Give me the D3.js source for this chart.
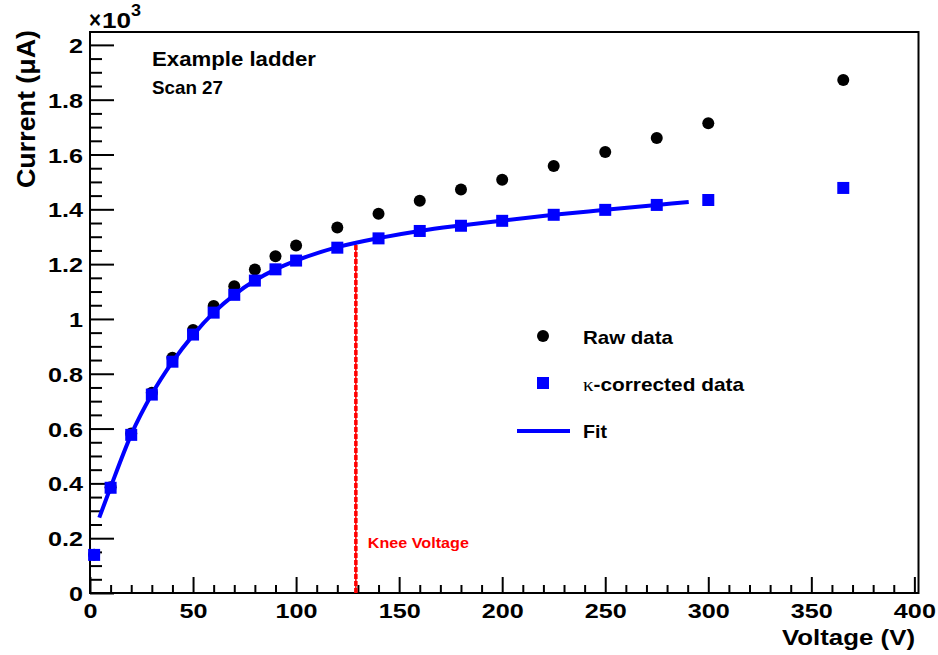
<!DOCTYPE html>
<html>
<head>
<meta charset="utf-8">
<script src="https://cdn.jsdelivr.net/npm/d3@7"></script>
<style>
  body { margin: 0; background: #fff; }
  svg text { font-family: "Liberation Sans", Arial, Helvetica, sans-serif; font-weight: bold; }
</style>
</head>
<body>
<svg id="chart" width="938" height="655"></svg>
<script>
// Measured voltages (V)
var voltages = [2, 10, 20, 30, 40, 50, 60, 70, 80, 90, 100, 120, 140, 160, 180, 200, 225, 250, 275, 300, 365.5];
// Raw current (uA)
var rawCurrent = [140, 386, 582, 731, 858, 960, 1047, 1119, 1180, 1229, 1268, 1334, 1384, 1431, 1472, 1508, 1558, 1609, 1660, 1714, 1872];
// kappa-corrected current (uA)
var corrCurrent = [139, 384, 577, 724, 844, 943, 1023, 1088, 1140, 1181, 1213, 1260, 1294, 1321, 1340, 1358, 1380, 1398, 1416, 1434, 1478];
// Fit curve
var fitVoltage = [4.5, 10, 20, 30, 40, 50, 60, 70, 80, 90, 100, 120, 140, 160, 180, 200, 225, 250, 275, 290.5];
var fitCurrent = [275, 386, 578, 725, 843, 941, 1023, 1088, 1140, 1181, 1213, 1262, 1295, 1321, 1341, 1359, 1380, 1398, 1416, 1427];
// Knee
var kneeVoltage = 129;
var kneeCurrent = 1276;
// Axis ticks
var xMajorTicks = [0, 50, 100, 150, 200, 250, 300, 350, 400];
var yMajorTicks = [0, 200, 400, 600, 800, 1000, 1200, 1400, 1600, 1800, 2000];
var yTickLabels = ["0", "0.2", "0.4", "0.6", "0.8", "1", "1.2", "1.4", "1.6", "1.8", "2"];

var blue = '#0000ff';
var red = '#ff0000';

// glyphs in the reference are wider than Liberation Sans, stretch them
function labelWidth(s, size) {
  var w = 0;
  String(s).split("").forEach(function (c) { w += (c === "." ? 0.278 : 0.556); });
  return w * size * 1.2;
}

var svg = d3.select("#chart");

var plotLeft = 90, plotRight = 918.5, plotTop = 32, plotBottom = 593;

var x = d3.scaleLinear().domain([0, 402]).range([plotLeft, plotRight]);
var y = d3.scaleLinear().domain([0, 2047]).range([plotBottom, plotTop]);

// minor ticks
var xMinor = d3.range(0, 401, 10).filter(function (v) { return v % 50 !== 0; });
var yMinor = d3.range(0, 2001, 50).filter(function (v) { return v % 200 !== 0; });

function styleAxis(g) {
  g.select(".domain").remove();
  g.selectAll("line").attr("stroke", "#000").attr("stroke-width", 2);
}

svg.append("g")
  .attr("transform", "translate(0," + plotBottom + ")")
  .call(d3.axisBottom(x).tickValues(xMinor).tickSize(-8).tickFormat(""))
  .call(styleAxis);

var xAxis = svg.append("g")
  .attr("transform", "translate(0," + plotBottom + ")")
  .call(d3.axisBottom(x).tickValues(xMajorTicks).tickSize(-16).tickPadding(10).tickFormat(d3.format("d")))
  .call(styleAxis);
xAxis.selectAll("text")
  .attr("fill", "#000")
  .attr("font-size", 21)
  .attr("y", 25).attr("dy", 0)
  .attr("textLength", function (d) { return labelWidth(d, 21); })
  .attr("lengthAdjust", "spacingAndGlyphs");

svg.append("g")
  .attr("transform", "translate(" + plotLeft + ",0)")
  .call(d3.axisLeft(y).tickValues(yMinor).tickSize(-12).tickFormat(""))
  .call(styleAxis);

var yAxis = svg.append("g")
  .attr("transform", "translate(" + plotLeft + ",0)")
  .call(d3.axisLeft(y).tickValues(yMajorTicks).tickSize(-24).tickPadding(7)
    .tickFormat(function (d, i) { return yTickLabels[i]; }))
  .call(styleAxis);
yAxis.selectAll("text")
  .attr("fill", "#000")
  .attr("font-size", 21)
  .attr("dy", "0.36em")
  .attr("textLength", function (d, i) { return labelWidth(yTickLabels[i], 21); })
  .attr("lengthAdjust", "spacingAndGlyphs");

// frame
svg.append("rect")
  .attr("x", plotLeft).attr("y", plotTop)
  .attr("width", plotRight - plotLeft).attr("height", plotBottom - plotTop)
  .attr("fill", "none").attr("stroke", "#000").attr("stroke-width", 2);

// knee line
svg.append("line")
  .attr("x1", x(kneeVoltage)).attr("x2", x(kneeVoltage))
  .attr("y1", y(0)).attr("y2", y(kneeCurrent))
  .attr("stroke", red).attr("stroke-width", 1.5);
svg.append("line")
  .attr("x1", x(kneeVoltage)).attr("x2", x(kneeVoltage))
  .attr("y1", y(0)).attr("y2", y(kneeCurrent))
  .attr("stroke", red).attr("stroke-width", 3.5).attr("stroke-dasharray", "5,2");

svg.append("text")
  .attr("x", x(kneeVoltage) + 12).attr("y", 548)
  .attr("font-size", 15).attr("fill", red)
  .attr("textLength", 101).attr("lengthAdjust", "spacingAndGlyphs")
  .text("Knee Voltage");

// raw data
svg.selectAll("circle.raw")
  .data(voltages)
  .enter().append("circle")
  .attr("class", "raw")
  .attr("cx", function (d) { return x(d); })
  .attr("cy", function (d, i) { return y(rawCurrent[i]); })
  .attr("r", 6)
  .attr("fill", "#000");

// fit
var fitLine = d3.line()
  .x(function (d) { return x(d); })
  .y(function (d, i) { return y(fitCurrent[i]); })
  .curve(d3.curveMonotoneX);

svg.append("path")
  .datum(fitVoltage)
  .attr("d", fitLine)
  .attr("fill", "none")
  .attr("stroke", blue)
  .attr("stroke-width", 4);

// corrected data
svg.selectAll("rect.corr")
  .data(voltages)
  .enter().append("rect")
  .attr("class", "corr")
  .attr("x", function (d) { return x(d) - 6; })
  .attr("y", function (d, i) { return y(corrCurrent[i]) - 6; })
  .attr("width", 12).attr("height", 12)
  .attr("fill", blue);

// labels
svg.append("text")
  .attr("x", 152).attr("y", 66)
  .attr("font-size", 19.5)
  .attr("textLength", 164).attr("lengthAdjust", "spacingAndGlyphs")
  .text("Example ladder");

svg.append("text")
  .attr("x", 152).attr("y", 94)
  .attr("font-size", 18.5)
  .attr("textLength", 71).attr("lengthAdjust", "spacingAndGlyphs")
  .text("Scan 27");

// x10^3 exponent
svg.append("text")
  .attr("x", 89).attr("y", 28)
  .attr("font-size", 23).attr("font-weight", "normal")
  .attr("textLength", 12).attr("lengthAdjust", "spacingAndGlyphs")
  .text("\u00d7");
svg.append("text")
  .attr("x", 102).attr("y", 28)
  .attr("font-size", 22)
  .attr("textLength", 29).attr("lengthAdjust", "spacingAndGlyphs")
  .text("10");
svg.append("text")
  .attr("x", 131).attr("y", 16)
  .attr("font-size", 16)
  .attr("textLength", 10).attr("lengthAdjust", "spacingAndGlyphs")
  .text("3");

svg.append("text")
  .attr("x", 915).attr("y", 645)
  .attr("text-anchor", "end")
  .attr("font-size", 21.5)
  .attr("textLength", 133).attr("lengthAdjust", "spacingAndGlyphs")
  .text("Voltage (V)");

svg.append("text")
  .attr("transform", "translate(35,30) rotate(-90)")
  .attr("text-anchor", "end")
  .attr("font-size", 26)
  .attr("textLength", 158).attr("lengthAdjust", "spacingAndGlyphs")
  .text("Current (\u03bcA)");

// legend
var legend = svg.append("g");
legend.append("circle").attr("cx", 543).attr("cy", 336).attr("r", 6).attr("fill", "#000");
legend.append("rect").attr("x", 537).attr("y", 377).attr("width", 12).attr("height", 12).attr("fill", blue);
legend.append("line").attr("x1", 517).attr("x2", 570).attr("y1", 431).attr("y2", 431)
  .attr("stroke", blue).attr("stroke-width", 4);

legend.append("text").attr("x", 583).attr("y", 344).attr("font-size", 19)
  .attr("textLength", 90).attr("lengthAdjust", "spacingAndGlyphs")
  .text("Raw data");
var kt = legend.append("text").attr("x", 583).attr("y", 391).attr("font-size", 19)
  .attr("textLength", 161).attr("lengthAdjust", "spacingAndGlyphs");
kt.append("tspan").attr("font-family", "Liberation Serif, serif").attr("font-weight", "normal").text("\u03ba");
kt.append("tspan").text("-corrected data");
legend.append("text").attr("x", 583).attr("y", 438).attr("font-size", 19)
  .attr("textLength", 24).attr("lengthAdjust", "spacingAndGlyphs")
  .text("Fit");
</script>
</body>
</html>
